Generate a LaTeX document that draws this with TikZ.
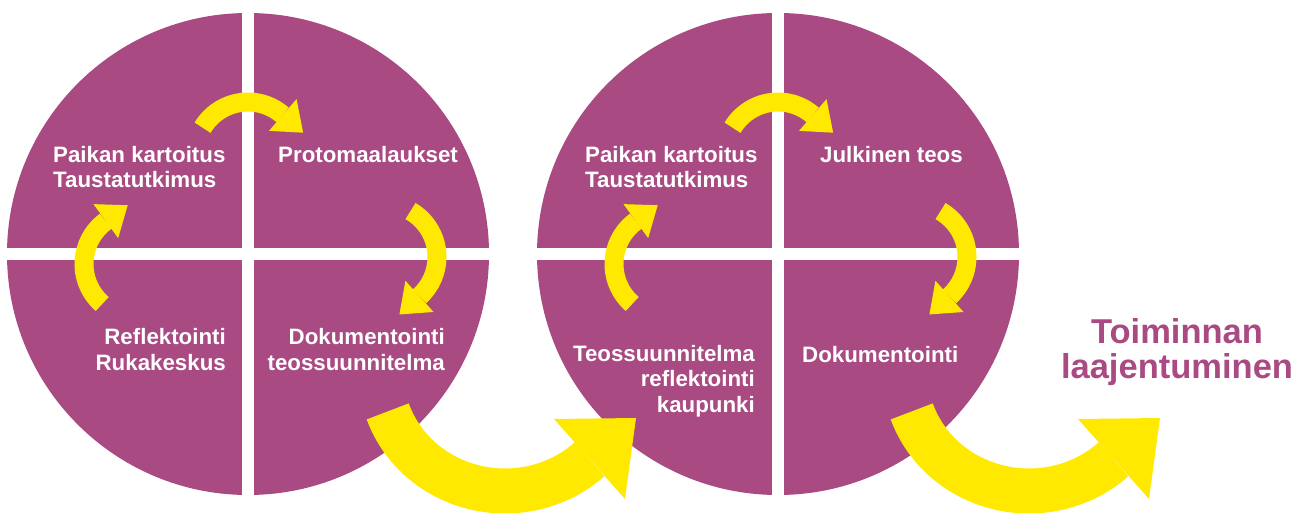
\documentclass[tikz,border=0pt]{standalone}
\usepackage{fontspec}
\setmainfont{Liberation Sans}
\usetikzlibrary{calc}
\definecolor{plum}{RGB}{169,74,131}
\definecolor{sun}{RGB}{255,233,0}

\begin{document}
\begin{tikzpicture}[x=1pt, y=1pt,
        phase/.style={text=white, font=\bfseries\fontsize{22.3}{25.3}\selectfont, inner sep=0pt},
        loopbody/.style={draw=sun, line width=19},
        jumpbody/.style={draw=sun, line width=45}]
    \useasboundingbox (0,0) rectangle (1316,512);

    % Two quartered discs with their small loop arrows
    \foreach \s in {0,530} {
        \begin{scope}[shift={(\s,0)}]
            \fill[plum] (248,258) circle (241);
            \draw[white, line width=12] (248,10) -- (248,506);
            \draw[white, line width=12] (0,258) -- (496,258);
            \foreach \cx/\cy/\a/\b in {248/357/149/49, 137/248/229/126, 384/255/60/-48} {
                \draw[loopbody] (\cx,\cy) ++(\a:53) arc[start angle=\a, end angle=\b, radius=53];
                \fill[sun] ($(\cx,\cy)+(\b:32)$) -- ($(\cx,\cy)+(\b:74)$) -- ($(\cx,\cy)+(\b:53)+(\b-90:27)$) -- cycle;
            }
        \end{scope}
    }

    % Big arrows leading out of each disc
    \foreach \cx in {505,1029} {
        \begin{scope}[shift={(\cx,139)}]
            \draw[jumpbody] (199:124 and 118) arc[start angle=199, end angle=313, x radius=124, y radius=118];
            \fill[sun] (49,-46) -- (131,-45) -- (120,-126) -- cycle;
        \end{scope}
    }

    % First disc (base anchor sits on the last line)
    \node[phase, anchor=base west, align=left] (map1) at (53,324) {Paikan kartoitus\\Taustatutkimus};
    \node[phase, anchor=base west] (proto) at (278,349) {Protomaalaukset};
    \node[phase, anchor=base east, align=right] (refl) at (226,142) {Reflektointi\\Rukakeskus};
    \node[phase, anchor=base east, align=right] (doc1) at (445,142) {Dokumentointi\\teossuunnitelma};

    % Second disc
    \node[phase, anchor=base west, align=left] (map2) at (585,324) {Paikan kartoitus\\Taustatutkimus};
    \node[phase, anchor=base west] (work) at (820,349) {Julkinen teos};
    \node[phase, anchor=base east, align=right] (plan) at (755,100) {Teossuunnitelma\\reflektointi\\kaupunki};
    \node[phase, anchor=base west] (doc2) at (802,150) {Dokumentointi};

    \node[text=plum, font=\bfseries\fontsize{34.5}{35}\selectfont, align=center, anchor=base] (growth) at (1177,134) {Toiminnan\\laajentuminen};
\end{tikzpicture}
\end{document}
